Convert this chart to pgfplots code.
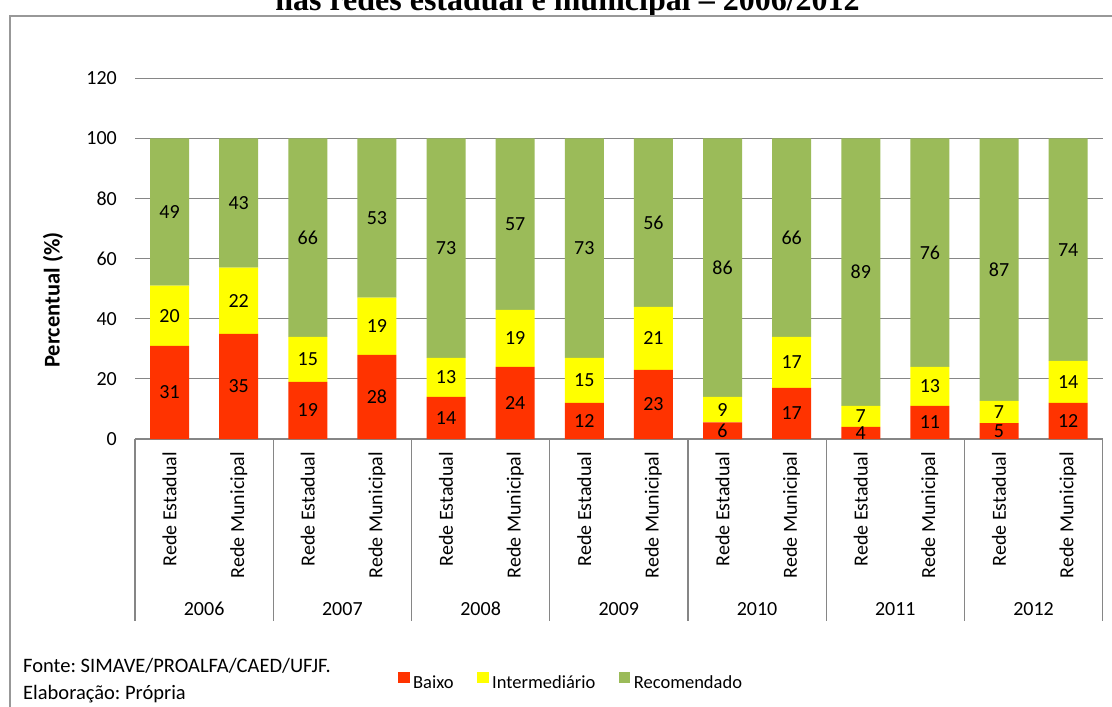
\documentclass[border=0pt]{standalone}
\usepackage{fontspec}
\setmainfont{Carlito}
\newfontfamily\titlefont{Liberation Serif}
\usepackage{pgfplots}
\usepackage{pgfplotstable}
\pgfplotsset{compat=1.18}
\definecolor{cBaixo}{HTML}{FF3300}
\definecolor{cInter}{HTML}{FFFF00}
\definecolor{cRec}{HTML}{9BBB59}
\definecolor{cGrid}{HTML}{868686}

\pgfplotstableread{
x b i r lb li lr
0 31 20 49 31 20 49
1 35 22 43 35 22 43
2 19 15 66 19 15 66
3 28 19 53 28 19 53
4 14 13 73 14 13 73
5 24 19 57 24 19 57
6 12 15 73 12 15 73
7 23 21 56 23 21 56
8 5.5 8.5 86 6 9 86
9 17 17 66 17 17 66
10 4 7 89 4 7 89
11 11 13 76 11 13 76
12 5.3 7.4 87.3 5 7 87
13 12 14 74 12 14 74
}\data

\newcommand{\fs}{\fontsize{20}{24}\selectfont}
\frenchspacing

\begin{document}
\begin{tikzpicture}[x=1pt,y=1pt]
\path[use as bounding box] (0pt,0pt) rectangle (1112pt,-707pt);
\clip (0pt,0pt) rectangle (1112pt,-707pt);
\fill[white] (0pt,0pt) rectangle (1112pt,-707pt);
% title (cut at top)
\node[anchor=base, inner sep=0pt, font=\titlefont\bfseries\fontsize{32}{36}\selectfont] at (567.5pt,-10pt) {nas redes estadual e municipal – 2006/2012};
% frame
\draw[cGrid!85, line width=2pt] (10pt,-16pt) rectangle (1140pt,-740pt);

\begin{axis}[
  at={(135pt,-439pt)}, anchor=south west, scale only axis,
  width=967.7pt, height=360.7pt,
  ybar stacked, bar width=39pt,
  xmin=-0.5, xmax=13.5, ymin=0, ymax=120,
  xtick={0,...,13},
  xticklabels={Rede Estadual,Rede Municipal,Rede Estadual,Rede Municipal,Rede Estadual,Rede Municipal,Rede Estadual,Rede Municipal,Rede Estadual,Rede Municipal,Rede Estadual,Rede Municipal,Rede Estadual,Rede Municipal},
  xticklabel style={rotate=90, anchor=east, font=\fs, inner sep=0pt},
  xticklabel shift=13pt,
  ytick={0,20,...,120},
  yticklabel style={font=\fs, inner sep=0pt},
  yticklabel shift=18pt,
  /pgf/number format/assume math mode=true,
  ymajorgrids, grid style={cGrid, line width=1.2pt},
  axis line style={draw=none},
  major tick length=0pt,
  tick style={draw=none},
  clip=false,
  nodes near coords,
  point meta=explicit symbolic,
  every node near coord/.append style={font=\fs, text=black, inner sep=0pt, anchor=center},
  legend style={draw=none, fill=none, inner sep=0pt, outer sep=0pt,
    at={(0.2718,-0.676)}, anchor=west, legend columns=3,
    font=\fontsize{18.5}{22}\selectfont,
    /tikz/every even column/.append style={column sep=20pt},
    nodes={inner sep=3.5pt}},
  legend image code/.code={\fill[#1] (0pt,0pt) rectangle (11.6pt,11.6pt);},
]
\addplot[fill=cBaixo, draw=none] table[x=x,y=b,meta=lb]{\data};
\addplot[fill=cInter, draw=none] table[x=x,y=i,meta=li]{\data};
\addplot[fill=cRec, draw=none] table[x=x,y=r,meta=lr]{\data};
\legend{Baixo, Intermediário, Recomendado}
\end{axis}

% group separators of the category axis
\foreach \k in {0,...,7}
  \draw[cGrid, line width=1.2pt] ({135+138.24*\k},-439) -- ({135+138.24*\k},-621);
\foreach \yr [count=\k from 0] in {2006,2007,2008,2009,2010,2011,2012}
  \node[anchor=base, inner sep=0pt, font=\fs] at ({135+138.24*(\k+0.5)},-615) {\yr};

% axis title
\node[rotate=90, inner sep=0pt, font=\fontsize{22.5}{26}\selectfont\bfseries] at (53pt,-300pt) {Percentual (\%)};

% source notes
\node[anchor=base west, inner sep=0pt, font=\fontsize{20.5}{24}\selectfont] at (23pt,-672pt) {Fonte: SIMAVE/PROALFA/CAED/UFJF.};
\node[anchor=base west, inner sep=0pt, font=\fontsize{20.5}{24}\selectfont] at (23pt,-699pt) {Elaboração: Própria};
\end{tikzpicture}
\end{document}
